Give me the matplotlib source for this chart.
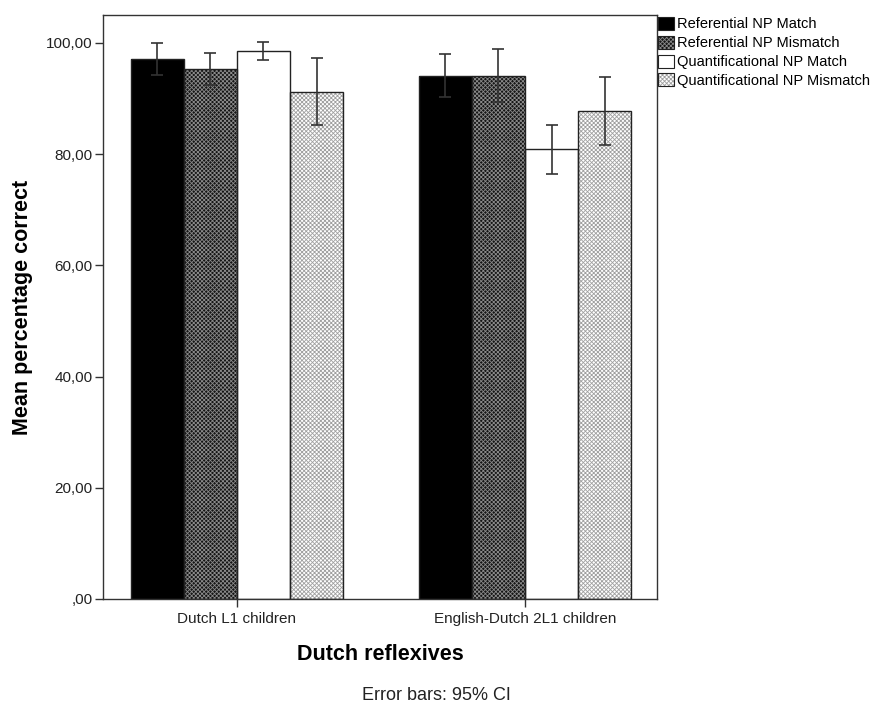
import numpy as np
import matplotlib
matplotlib.use("Agg")
from matplotlib import pyplot as plt
from matplotlib.patches import Patch
from matplotlib.legend_handler import HandlerTuple

plt.rcParams['font.family'] = ['Liberation Sans', 'DejaVu Sans']
plt.rcParams['hatch.linewidth'] = 0.6

# Groups and conditions
groups = ["Dutch L1 children", "English-Dutch 2L1 children"]
conditions = ["Referential NP Match", "Referential NP Mismatch",
              "Quantificational NP Match", "Quantificational NP Mismatch"]

# Mean percentage correct, one list per condition (Dutch L1, 2L1)
ref_match = [97.1, 94.1]
ref_mismatch = [95.3, 94.1]
quant_match = [98.6, 80.9]
quant_mismatch = [91.2, 87.8]

# 95% CI bounds
ci_low = [[94.2, 90.2], [92.4, 89.3], [96.9, 76.4], [85.3, 81.7]]
ci_high = [[100.0, 98.0], [98.2, 98.9], [100.2, 85.3], [97.3, 93.9]]

y_ticks = [0, 20, 40, 60, 80, 100]

means = [ref_match, ref_mismatch, quant_match, quant_mismatch]
# face colour, hatch, hatch colour
styles = [("black", None, "black"),
          ("#151515", "xxxxxxxx", "#8a8a8a"),
          ("white", None, "white"),
          ("white", "xxxxxxxx", "#a0a0a0")]

fig = plt.figure(figsize=(8.72, 7.04), dpi=100)
ax = fig.add_axes([103/872, 105/704, 554/872, 584/704])

x = np.arange(len(groups)) * 1.0
width = 0.1845
offsets = (np.arange(4) - 1.5) * width

for k in range(4):
    face, hatch, hcol = styles[k]
    pos = x + offsets[k]
    # fill (hatch takes the edge colour)
    ax.bar(pos, means[k], width, color=face, hatch=hatch, edgecolor=hcol,
           linewidth=0, zorder=2)
    # outline
    ax.bar(pos, means[k], width, fill=False, edgecolor="#222222",
           linewidth=1.0, zorder=3)
    m = np.array(means[k])
    err = [m - np.array(ci_low[k]), np.array(ci_high[k]) - m]
    ax.errorbar(pos, m, yerr=err, fmt="none", ecolor="#333333",
                elinewidth=1.2, capsize=4.5, capthick=1.2, zorder=4)

ax.set_xlim(-0.465, 1.4585)
ax.set_ylim(0, 105)
ax.set_yticks(y_ticks)
ax.set_yticklabels([",00" if v == 0 else f"{v},00" for v in y_ticks],
                   fontsize=11, color="#222222")
ax.set_xticks(x)
ax.set_xticklabels(groups, fontsize=11, color="#222222")
ax.tick_params(axis="both", direction="out", length=5.5, width=1,
               color="#333333", pad=2)
ax.tick_params(axis="x", pad=4)
for s in ax.spines.values():
    s.set_linewidth(1.0)
    s.set_color("#333333")

ax.set_ylabel("Mean percentage correct", fontsize=15.5, fontweight="bold",
              labelpad=9)
ax.set_xlabel("Dutch reflexives", fontsize=15.5, fontweight="bold",
              labelpad=13)

# legend keys: hatched fill overlaid with a dark outline
handles = []
for k in range(4):
    face, hatch, hcol = styles[k]
    fill = Patch(facecolor=face, hatch=hatch, edgecolor=hcol, linewidth=0)
    edge = Patch(fill=False, edgecolor="#222222", linewidth=0.8)
    handles.append((fill, edge))
leg = fig.legend(handles=handles, labels=conditions, loc="upper left",
                 handler_map={tuple: HandlerTuple(ndivide=1, pad=0)},
                 bbox_to_anchor=(657/872, 1 - 16/704), frameon=False,
                 fontsize=10.5, handlelength=1.1, handleheight=1.0,
                 handletextpad=0.2, labelspacing=0.3, borderaxespad=0,
                 borderpad=0.05)

fig.text(436/872, 1 - 696/704, "Error bars: 95% CI", ha="center",
         va="center", fontsize=13, color="#222222")

fig.savefig("out.png", dpi=100)
